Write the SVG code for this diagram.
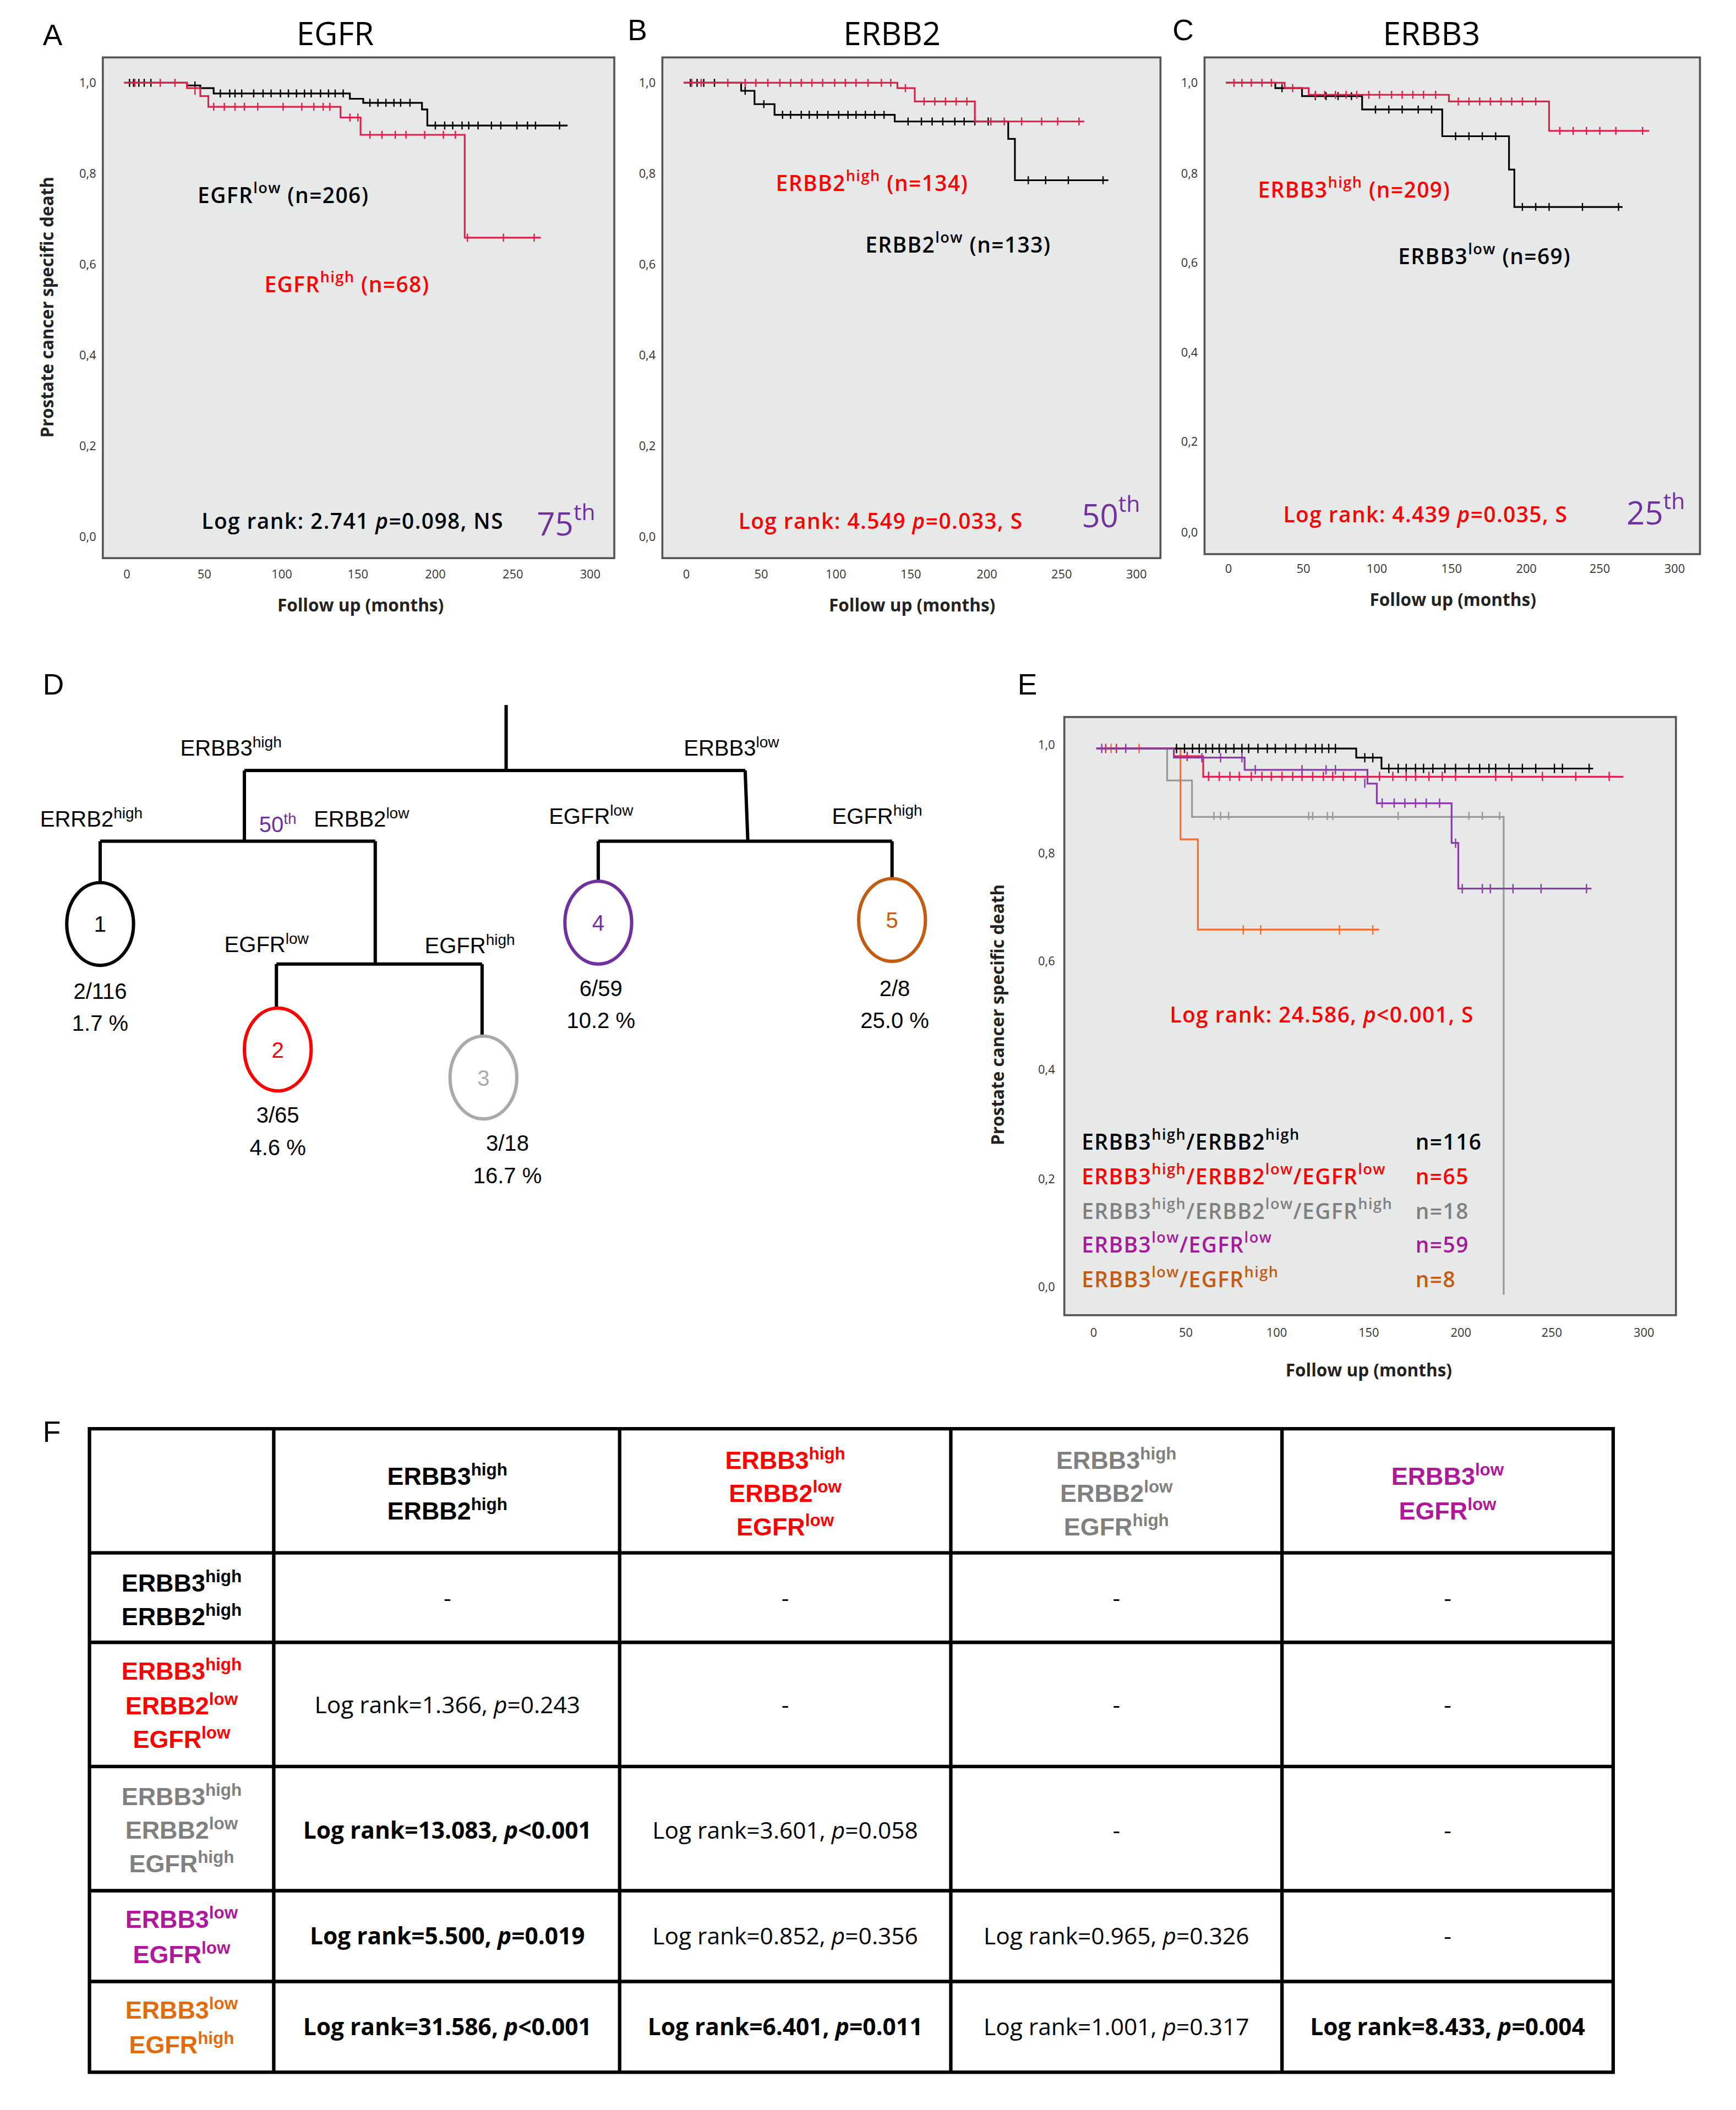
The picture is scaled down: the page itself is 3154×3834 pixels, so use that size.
<svg xmlns="http://www.w3.org/2000/svg" width="3154" height="3834" viewBox="0 0 3154 3834">
<style>
.t{font-family:"Liberation Sans",Arial,sans-serif}
.o{font-family:"Open Sans","Liberation Sans",sans-serif}
.lab{font-size:22px}
.ttl{font-size:24px}
.tk{font-size:9px;fill:#333}
.ax{font-size:13px;font-weight:700;fill:#222}
.pl{font-size:16px;font-weight:600;letter-spacing:0.6px}
.box{fill:#e7e8e8;stroke:#555;stroke-width:1.5}
.cv{fill:none;stroke-width:1.3}
.tkm{fill:none;stroke-width:1}
.tr{fill:none;stroke:#000;stroke-width:2.5}
.d{font-size:16.5px}
.g{fill:none;stroke:#000;stroke-width:2.6}
.h{font-size:18.5px;font-weight:700}
.c{font-size:17.5px}
.b{font-weight:700}
.s{font-size:70%;baseline-shift:super}
</style>
<rect width="3154" height="3834" fill="#fff"/>
<g transform="scale(2.4262)">
<!-- Panel A -->
<g id="panelA">
<text class="t lab" x="32" y="34">A</text>
<text class="o ttl" x="251" y="34" text-anchor="middle">EGFR</text>
<rect class="box" x="77" y="43" width="383" height="375"/>
<g class="o tk" text-anchor="end"><text x="72" y="65">1,0</text><text x="72" y="133">0,8</text><text x="72" y="201">0,6</text><text x="72" y="269">0,4</text><text x="72" y="337">0,2</text><text x="72" y="405">0,0</text></g>
<g class="o tk" text-anchor="middle"><text x="95" y="433">0</text><text x="153" y="433">50</text><text x="211" y="433">100</text><text x="268" y="433">150</text><text x="326" y="433">200</text><text x="384" y="433">250</text><text x="442" y="433">300</text></g>
<text class="o ax" x="40" y="230" text-anchor="middle" transform="rotate(-90 40 230)">Prostate cancer specific death</text>
<text class="o ax" x="270" y="458" text-anchor="middle">Follow up (months)</text>
<path class="cv" stroke="#000" d="M93,62H140V64H150V66H160V70H262V74H272V77H316V82H320V94H425"/>
<path class="tkm" stroke="#000" d="M97,59v6M100,59v6M104,59v6M108,59v6M113,59v6M146,61v6M165,67v6M172,67v6M176,67v6M181,67v6M190,67v6M197,67v6M203,67v6M210,67v6M216,67v6M222,67v6M228,67v6M233,67v6M240,67v6M246,67v6M251,67v6M257,67v6M277,74v6M283,74v6M289,74v6M295,74v6M300,74v6M307,74v6M326,91v6M333,91v6M339,91v6M346,91v6M351,91v6M358,91v6M368,91v6M375,91v6M387,91v6M395,91v6M401,91v6M419,91v6"/>
<path class="cv" stroke="#e0204a" d="M93,62H140V66H150V72H156V80H255V88H270V101H348V178H405"/>
<path class="tkm" stroke="#e0204a" d="M101,59v6M120,59v6M131,59v6M146,65v6M160,77v6M168,77v6M176,77v6M183,77v6M193,77v6M212,77v6M226,77v6M235,77v6M242,77v6M247,77v6M262,85v6M268,85v6M277,98v6M286,98v6M296,98v6M304,98v6M318,98v6M332,98v6M341,98v6M350,175v6M377,175v6M400,175v6"/>
<text class="o pl" x="148" y="152">EGFR<tspan class="s">low</tspan> (n=206)</text>
<text class="o pl" x="198" y="219" fill="#ff0000">EGFR<tspan class="s">high</tspan> (n=68)</text>
<text class="o pl" x="151" y="396">Log rank: 2.741 <tspan font-style="italic">p</tspan>=0.098, NS</text>
<text class="o" x="402" y="401" font-size="24" fill="#7030a0">75<tspan class="s">th</tspan></text>
</g>
<!-- Panel B -->
<g id="panelB">
<text class="t lab" x="470" y="30">B</text>
<text class="o ttl" x="668" y="34" text-anchor="middle">ERBB2</text>
<rect class="box" x="496" y="43" width="373" height="375"/>
<g class="o tk" text-anchor="end"><text x="491" y="65">1,0</text><text x="491" y="133">0,8</text><text x="491" y="201">0,6</text><text x="491" y="269">0,4</text><text x="491" y="337">0,2</text><text x="491" y="405">0,0</text></g>
<g class="o tk" text-anchor="middle"><text x="514" y="433">0</text><text x="570" y="433">50</text><text x="626" y="433">100</text><text x="682" y="433">150</text><text x="739" y="433">200</text><text x="795" y="433">250</text><text x="851" y="433">300</text></g>
<text class="o ax" x="683" y="458" text-anchor="middle">Follow up (months)</text>
<path class="cv" stroke="#000" d="M512,62H555V68H565V78H580V86H670V91H755V104H760V135H830"/>
<path class="tkm" stroke="#000" d="M517,59v6M522,59v6M527,59v6M535,59v6M558,65v6M572,75v6M586,83v6M592,83v6M600,83v6M606,83v6M612,83v6M620,83v6M628,83v6M635,83v6M641,83v6M648,83v6M655,83v6M662,83v6M680,88v6M690,88v6M698,88v6M706,88v6M715,88v6M722,88v6M730,88v6M740,88v6M770,132v6M783,132v6M800,132v6M826,132v6"/>
<path class="cv" stroke="#e0204a" d="M512,62H672V66H685V76H730V91H812"/>
<path class="tkm" stroke="#e0204a" d="M518,59v6M525,59v6M545,59v6M558,59v6M566,59v6M575,59v6M584,59v6M592,59v6M600,59v6M608,59v6M616,59v6M625,59v6M633,59v6M641,59v6M650,59v6M660,59v6M667,59v6M678,63v6M692,73v6M700,73v6M708,73v6M716,73v6M724,73v6M742,88v6M752,88v6M765,88v6M780,88v6M792,88v6M808,88v6"/>
<text class="o pl" x="581" y="143" fill="#ff0000">ERBB2<tspan class="s">high</tspan> (n=134)</text>
<text class="o pl" x="648" y="189">ERBB2<tspan class="s">low</tspan> (n=133)</text>
<text class="o pl" x="553" y="396" fill="#ff0000">Log rank: 4.549 <tspan font-style="italic">p</tspan>=0.033, S</text>
<text class="o" x="810" y="395" font-size="24" fill="#7030a0">50<tspan class="s">th</tspan></text>
</g>
<!-- Panel C -->
<g id="panelC">
<text class="t lab" x="878" y="30">C</text>
<text class="o ttl" x="1072" y="34" text-anchor="middle">ERBB3</text>
<rect class="box" x="902" y="43" width="371" height="372"/>
<g class="o tk" text-anchor="end"><text x="897" y="65">1,0</text><text x="897" y="133">0,8</text><text x="897" y="200">0,6</text><text x="897" y="267">0,4</text><text x="897" y="334">0,2</text><text x="897" y="402">0,0</text></g>
<g class="o tk" text-anchor="middle"><text x="920" y="429">0</text><text x="976" y="429">50</text><text x="1031" y="429">100</text><text x="1087" y="429">150</text><text x="1143" y="429">200</text><text x="1198" y="429">250</text><text x="1254" y="429">300</text></g>
<text class="o ax" x="1088" y="454" text-anchor="middle">Follow up (months)</text>
<path class="cv" stroke="#000" d="M918,62H955V66H975V72H1020V82H1080V102H1130V127H1134V155H1215"/>
<path class="tkm" stroke="#000" d="M960,63v6M985,69v6M993,69v6M1002,69v6M1012,69v6M1030,79v6M1040,79v6M1050,79v6M1062,79v6M1072,79v6M1090,99v6M1100,99v6M1110,99v6M1120,99v6M1140,152v6M1150,152v6M1160,152v6M1185,152v6M1212,152v6"/>
<path class="cv" stroke="#e0204a" d="M918,62H962V66H980V71H1085V76H1160V98H1235"/>
<path class="tkm" stroke="#e0204a" d="M924,59v6M930,59v6M937,59v6M945,59v6M952,59v6M968,63v6M985,68v6M992,68v6M1000,68v6M1008,68v6M1016,68v6M1025,68v6M1033,68v6M1042,68v6M1050,68v6M1058,68v6M1066,68v6M1075,68v6M1092,73v6M1100,73v6M1108,73v6M1116,73v6M1124,73v6M1132,73v6M1140,73v6M1150,73v6M1168,95v6M1178,95v6M1188,95v6M1198,95v6M1210,95v6M1230,95v6"/>
<text class="o pl" x="942" y="148" fill="#ff0000">ERBB3<tspan class="s">high</tspan> (n=209)</text>
<text class="o pl" x="1047" y="198">ERBB3<tspan class="s">low</tspan> (n=69)</text>
<text class="o pl" x="961" y="391" fill="#ff0000">Log rank: 4.439 <tspan font-style="italic">p</tspan>=0.035, S</text>
<text class="o" x="1218" y="393" font-size="24" fill="#7030a0">25<tspan class="s">th</tspan></text>
</g>
<!-- Panel D -->
<g id="panelD">
<text class="t lab" x="32" y="520">D</text>
<g id="connectors">
<path class="tr" d="M379,528V577M183,577H558M183,577V630M75,630H281M75,630V662M281,630V722M207,722H361M207,722V755M361,722V777M558,577L560,630M448,630H668M448,630V661M668,630V659"/>
</g>
<g id="n1"><ellipse cx="75" cy="692" rx="25" ry="31" fill="#fff" stroke="#000" stroke-width="2.5"/><text class="t d" x="75" y="698" text-anchor="middle">1</text></g>
<g id="n2"><ellipse cx="208" cy="786" rx="25" ry="31" fill="#fff" stroke="#ff0000" stroke-width="2.5"/><text class="t d" x="208" y="792" text-anchor="middle" fill="#ff0000">2</text></g>
<g id="n3"><ellipse cx="362" cy="807" rx="25" ry="31" fill="#fff" stroke="#aaa" stroke-width="2.5"/><text class="t d" x="362" y="813" text-anchor="middle" fill="#aaa">3</text></g>
<g id="n4"><ellipse cx="448" cy="691" rx="25" ry="31" fill="#fff" stroke="#7030a0" stroke-width="2.5"/><text class="t d" x="448" y="697" text-anchor="middle" fill="#7030a0">4</text></g>
<g id="n5"><ellipse cx="668" cy="689" rx="25" ry="31" fill="#fff" stroke="#c55a11" stroke-width="2.5"/><text class="t d" x="668" y="695" text-anchor="middle" fill="#c55a11">5</text></g>
<g class="t d">
<text x="135" y="566">ERBB3<tspan class="s">high</tspan></text>
<text x="512" y="566">ERBB3<tspan class="s">low</tspan></text>
<text x="30" y="619">ERRB2<tspan class="s">high</tspan></text>
<text x="194" y="623" fill="#7030a0">50<tspan class="s">th</tspan></text>
<text x="235" y="619">ERBB2<tspan class="s">low</tspan></text>
<text x="411" y="617">EGFR<tspan class="s">low</tspan></text>
<text x="623" y="617">EGFR<tspan class="s">high</tspan></text>
<text x="168" y="713">EGFR<tspan class="s">low</tspan></text>
<text x="318" y="714">EGFR<tspan class="s">high</tspan></text>
</g>
<g class="t d" text-anchor="middle">
<text x="75" y="748">2/116</text><text x="75" y="772">1.7 %</text>
<text x="208" y="841">3/65</text><text x="208" y="865">4.6 %</text>
<text x="380" y="862">3/18</text><text x="380" y="886">16.7 %</text>
<text x="450" y="746">6/59</text><text x="450" y="770">10.2 %</text>
<text x="670" y="746">2/8</text><text x="670" y="770">25.0 %</text>
</g>
</g>
<!-- Panel E -->
<g id="panelE">
<text class="t lab" x="762" y="520">E</text>
<rect class="box" x="797" y="537" width="458" height="448"/>
<g class="o tk" font-size="10.5" text-anchor="end"><text x="790" y="561">1,0</text><text x="790" y="642">0,8</text><text x="790" y="723">0,6</text><text x="790" y="804">0,4</text><text x="790" y="886">0,2</text><text x="790" y="967">0,0</text></g>
<g class="o tk" font-size="10.5" text-anchor="middle"><text x="819" y="1001">0</text><text x="888" y="1001">50</text><text x="956" y="1001">100</text><text x="1025" y="1001">150</text><text x="1094" y="1001">200</text><text x="1162" y="1001">250</text><text x="1231" y="1001">300</text></g>
<text class="o ax" font-size="16" x="752" y="760" text-anchor="middle" transform="rotate(-90 752 760)">Prostate cancer specific death</text>
<text class="o ax" font-size="16" x="1025" y="1031" text-anchor="middle">Follow up (months)</text>
<path class="cv" stroke="#999" d="M821,560.6H874V584.5H892.6V611.8H1126V969.7"/>
<path class="tkm" stroke="#999" d="M884,581v6M909,608v6M914,608v6M920,608v6M980,608v6M983,608v6M994,608v6M998,608v6M1047,608v6M1100,608v6M1110,608v6M1123,608v6"/>
<path class="cv" stroke="#ff6a2a" d="M821,560.6H884V628.6H897V696.2H1032.7"/>
<path class="tkm" stroke="#ff6a2a" d="M832,557v7M853,557v7M931,693v7M944,693v7M1003,693v7M1028,693v7"/>
<path class="cv" stroke="#000" d="M821,560.6H1015.6V567.4H1034.5V575.6H1193"/>
<path class="tkm" stroke="#000" d="M881,557v7M887,557v7M893,557v7M898,557v7M903,557v7M908,557v7M913,557v7M918,557v7M924,557v7M930,557v7M935,557v7M942,557v7M949,557v7M955,557v7M963,557v7M970,557v7M978,557v7M985,557v7M990,557v7M995,557v7M1000,557v7M1022,564v7M1028,564v7M1040,572v7M1047,572v7M1053,572v7M1060,572v7M1066,572v7M1073,572v7M1082,572v7M1090,572v7M1100,572v7M1108,572v7M1115,572v7M1120,572v7M1130,572v7M1140,572v7M1150,572v7M1164,572v7M1170,572v7M1190,572v7"/>
<path class="cv" stroke="#e0204a" d="M821,560.6H879V566.4H901V581.7H1215.6"/>
<path class="tkm" stroke="#e0204a" d="M828,557v7M836,557v7M889,563v7M905,578v7M913,578v7M921,578v7M928,578v7M937,578v7M945,578v7M952,578v7M960,578v7M968,578v7M975,578v7M983,578v7M991,578v7M998,578v7M1006,578v7M1015,578v7M1024,578v7M1033,578v7M1043,578v7M1053,578v7M1060,578v7M1070,578v7M1080,578v7M1090,578v7M1120,578v7M1132,578v7M1155,578v7M1180,578v7M1205,578v7"/>
<path class="cv" stroke="#8a3ca8" d="M821,560.6H879V567.4H932V576.6H1024V586.9H1031V601.6H1087V631.3H1092V665.5H1191.7"/>
<path class="tkm" stroke="#8a3ca8" d="M825,557v7M843,557v7M900,564v7M914,564v7M930,564v7M940,573v7M975,573v7M993,573v7M1000,573v7M1022,583v7M1035,598v7M1044,598v7M1052,598v7M1060,598v7M1068,598v7M1078,598v7M1090,628v7M1095,662v7M1110,662v7M1116,662v7M1133,662v7M1154,662v7M1188,662v7"/>
<text class="o pl" x="876" y="766" fill="#ff0000">Log rank: 24.586, <tspan font-style="italic">p</tspan>&lt;0.001, S</text>
<g class="o pl" font-size="15">
<text x="810" y="861">ERBB3<tspan class="s">high</tspan>/ERBB2<tspan class="s">high</tspan></text>
<text x="810" y="887" fill="#ff0000">ERBB3<tspan class="s">high</tspan>/ERBB2<tspan class="s">low</tspan>/EGFR<tspan class="s">low</tspan></text>
<text x="810" y="913" fill="#808080">ERBB3<tspan class="s">high</tspan>/ERBB2<tspan class="s">low</tspan>/EGFR<tspan class="s">high</tspan></text>
<text x="810" y="938" fill="#a8189c">ERBB3<tspan class="s">low</tspan>/EGFR<tspan class="s">low</tspan></text>
<text x="810" y="964" fill="#c55a11">ERBB3<tspan class="s">low</tspan>/EGFR<tspan class="s">high</tspan></text>
<text x="1060" y="861">n=116</text>
<text x="1060" y="887" fill="#ff0000">n=65</text>
<text x="1060" y="913" fill="#808080">n=18</text>
<text x="1060" y="938" fill="#a8189c">n=59</text>
<text x="1060" y="964" fill="#c55a11">n=8</text>
</g>
</g>
<!-- Panel F -->
<g id="panelF">
<text class="t lab" x="32" y="1080">F</text>
<path class="g" d="M67,1070H1208V1552H67ZM205,1070V1552M464,1070V1552M712,1070V1552M960,1070V1552M67,1163H1208M67,1230H1208M67,1323H1208M67,1416H1208M67,1484H1208"/>
<g class="t h" text-anchor="middle">
<text x="335" y="1112">ERBB3<tspan class="s">high</tspan></text><text x="335" y="1138">ERBB2<tspan class="s">high</tspan></text>
<g fill="#ff0000"><text x="588" y="1100">ERBB3<tspan class="s">high</tspan></text><text x="588" y="1125">ERBB2<tspan class="s">low</tspan></text><text x="588" y="1150">EGFR<tspan class="s">low</tspan></text></g>
<g fill="#808080"><text x="836" y="1100">ERBB3<tspan class="s">high</tspan></text><text x="836" y="1125">ERBB2<tspan class="s">low</tspan></text><text x="836" y="1150">EGFR<tspan class="s">high</tspan></text></g>
<g fill="#b0189c"><text x="1084" y="1112">ERBB3<tspan class="s">low</tspan></text><text x="1084" y="1138">EGFR<tspan class="s">low</tspan></text></g>
<text x="136" y="1192">ERBB3<tspan class="s">high</tspan></text><text x="136" y="1217">ERBB2<tspan class="s">high</tspan></text>
<g fill="#ff0000"><text x="136" y="1258">ERBB3<tspan class="s">high</tspan></text><text x="136" y="1284">ERBB2<tspan class="s">low</tspan></text><text x="136" y="1309">EGFR<tspan class="s">low</tspan></text></g>
<g fill="#808080"><text x="136" y="1352">ERBB3<tspan class="s">high</tspan></text><text x="136" y="1377">ERBB2<tspan class="s">low</tspan></text><text x="136" y="1402">EGFR<tspan class="s">high</tspan></text></g>
<g fill="#b0189c"><text x="136" y="1444">ERBB3<tspan class="s">low</tspan></text><text x="136" y="1470">EGFR<tspan class="s">low</tspan></text></g>
<g fill="#e36c0a"><text x="136" y="1512">ERBB3<tspan class="s">low</tspan></text><text x="136" y="1538">EGFR<tspan class="s">high</tspan></text></g>
</g>
<g class="o c" text-anchor="middle">
<text x="335" y="1203">-</text><text x="588" y="1203">-</text><text x="836" y="1203">-</text><text x="1084" y="1203">-</text>
<text x="335" y="1283">Log rank=1.366, <tspan font-style="italic">p</tspan>=0.243</text><text x="588" y="1283">-</text><text x="836" y="1283">-</text><text x="1084" y="1283">-</text>
<text x="335" y="1377" class="b">Log rank=13.083, <tspan font-style="italic">p</tspan>&lt;0.001</text><text x="588" y="1377">Log rank=3.601, <tspan font-style="italic">p</tspan>=0.058</text><text x="836" y="1377">-</text><text x="1084" y="1377">-</text>
<text x="335" y="1456" class="b">Log rank=5.500, <tspan font-style="italic">p</tspan>=0.019</text><text x="588" y="1456">Log rank=0.852, <tspan font-style="italic">p</tspan>=0.356</text><text x="836" y="1456">Log rank=0.965, <tspan font-style="italic">p</tspan>=0.326</text><text x="1084" y="1456">-</text>
<text x="335" y="1524" class="b">Log rank=31.586, <tspan font-style="italic">p</tspan>&lt;0.001</text><text x="588" y="1524" class="b">Log rank=6.401, <tspan font-style="italic">p</tspan>=0.011</text><text x="836" y="1524">Log rank=1.001, <tspan font-style="italic">p</tspan>=0.317</text><text x="1084" y="1524" class="b">Log rank=8.433, <tspan font-style="italic">p</tspan>=0.004</text>
</g>
</g>
</g>
</svg>
